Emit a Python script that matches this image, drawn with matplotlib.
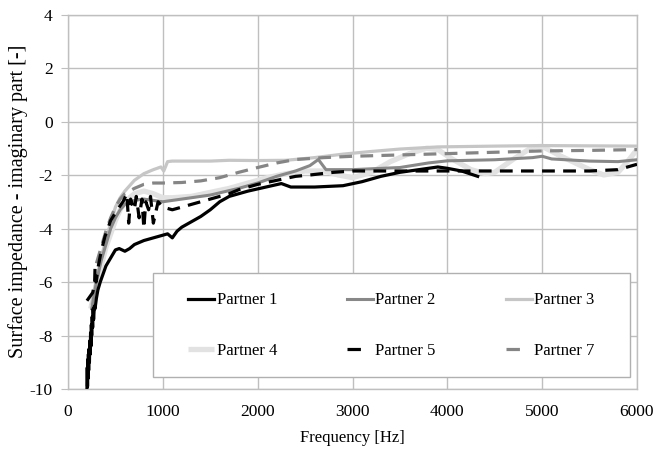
import matplotlib
matplotlib.use("Agg")
import matplotlib.pyplot as plt
from matplotlib.patches import Rectangle
from matplotlib.lines import Line2D

plt.rcParams['font.family'] = ['Liberation Serif', 'DejaVu Serif']
plt.rcParams['axes.unicode_minus'] = False

# Partner 1 (black solid)
p1_f = [200, 203, 206, 209, 212, 215, 218, 222, 226, 230, 234, 238, 242, 246, 250, 255,
        260, 265, 270, 278, 285, 300, 315, 340, 370, 400, 450, 500, 540, 600, 650, 700,
        800, 900, 1000, 1050, 1100, 1150, 1200, 1300, 1400, 1500, 1600, 1700, 1800,
        1900, 2000, 2150, 2250, 2350, 2600, 2900, 3100, 3300, 3500, 3700, 3900, 4000,
        4150, 4320]
p1_v = [-10.0, -9.2, -9.9, -8.9, -9.6, -8.7, -9.3, -8.5, -9.0, -8.2, -8.7, -7.9, -8.4,
        -7.6, -8.0, -7.3, -7.7, -7.0, -7.4, -6.9, -7.0, -6.6, -6.3, -6.0, -5.7, -5.4,
        -5.1, -4.8, -4.75, -4.85, -4.75, -4.6, -4.45, -4.35, -4.25, -4.2, -4.35, -4.1,
        -3.95, -3.75, -3.55, -3.3, -3.0, -2.8, -2.7, -2.6, -2.52, -2.4, -2.32, -2.45,
        -2.45, -2.4, -2.25, -2.05, -1.9, -1.8, -1.7, -1.75, -1.85, -2.05]

# Partner 2 (mid grey solid)
p2_f = [250, 300, 350, 400, 450, 500, 550, 600, 700, 800, 900, 1000, 1200, 1500, 1800,
        2000, 2200, 2400, 2550, 2640, 2720, 3000, 3500, 3800, 4000, 4500, 4900, 5000,
        5100, 5500, 5800, 6000]
p2_v = [-7.0, -6.0, -5.2, -4.6, -4.0, -3.6, -3.3, -3.1, -2.95, -2.9, -2.95, -3.0, -2.9,
        -2.75, -2.5, -2.3, -2.05, -1.85, -1.65, -1.42, -1.8, -1.8, -1.72, -1.55, -1.47,
        -1.43, -1.35, -1.3, -1.4, -1.48, -1.5, -1.43]

# Partner 3 (light grey solid)
p3_f = [250, 300, 350, 400, 450, 500, 550, 600, 700, 800, 900, 980, 1010, 1050, 1100,
        1300, 1500, 1700, 2000, 2300, 2600, 2900, 3200, 3500, 3900, 4500, 5000, 5500, 6000]
p3_v = [-6.8, -5.9, -5.1, -4.4, -3.8, -3.2, -2.85, -2.6, -2.2, -1.95, -1.8, -1.7, -1.85,
        -1.5, -1.48, -1.48, -1.48, -1.45, -1.46, -1.45, -1.35, -1.22, -1.12, -1.03,
        -0.95, -0.92, -0.9, -0.91, -0.92]

# Partner 4 (very light grey solid, wide)
p4_f = [240, 300, 350, 400, 450, 500, 550, 600, 700, 800, 900, 1000, 1100, 1300, 1500,
        1700, 1900, 2100, 2300, 2500, 2700, 2850, 3000, 3200, 3400, 3600, 3780, 3900,
        4050, 4250, 4400, 4500, 4700, 4900, 5000, 5200, 5500, 5650, 5800, 5900, 6000]
p4_v = [-7.0, -6.1, -5.4, -4.7, -4.2, -3.7, -3.3, -3.0, -2.7, -2.6, -2.7, -2.85, -2.85,
        -2.8, -2.65, -2.5, -2.3, -2.1, -1.95, -1.85, -1.85, -2.0, -2.1, -1.9, -1.5,
        -1.2, -1.0, -1.05, -1.4, -1.8, -1.95, -1.9, -1.4, -0.95, -0.93, -1.3, -1.8,
        -2.0, -1.9, -1.5, -1.05]

# Partner 5 (black dashed)
p5_f = [200, 230, 260, 280, 285, 295, 320, 350, 390, 450, 520, 580, 620, 640, 660, 700,
        720, 750, 780, 800, 820, 850, 870, 900, 950, 1000, 1100, 1200, 1300, 1400, 1500,
        1600, 1700, 1800, 1900, 2000, 2200, 2400, 2550, 2800, 3000, 3500, 4000, 4500,
        5000, 5500, 5800, 5900, 6000]
p5_v = [-6.7, -6.55, -6.4, -6.1, -5.5, -6.0, -5.4, -4.85, -4.3, -3.7, -3.3, -3.0, -2.7,
        -3.8, -2.9, -3.3, -2.8, -3.6, -2.9, -4.0, -3.0, -3.3, -2.8, -3.8, -3.0, -3.2,
        -3.3, -3.2, -3.1, -3.0, -2.9, -2.8, -2.7, -2.55, -2.45, -2.35, -2.2, -2.05,
        -2.0, -1.9, -1.85, -1.85, -1.85, -1.85, -1.85, -1.85, -1.8, -1.7, -1.6]

# Partner 7 (grey dashed)
p7_f = [300, 350, 400, 450, 500, 550, 600, 700, 800, 900, 1000, 1200, 1400, 1600, 1800,
        2000, 2200, 2400, 2700, 3000, 3500, 4000, 4500, 5000, 5500, 6000]
p7_v = [-5.3, -4.7, -4.1, -3.6, -3.2, -2.9, -2.7, -2.5, -2.35, -2.3, -2.3, -2.28, -2.22,
        -2.1, -1.9, -1.72, -1.55, -1.42, -1.35, -1.3, -1.25, -1.2, -1.15, -1.1, -1.08,
        -1.05]

fig = plt.figure(figsize=(6.69, 4.49), dpi=100)
ax = fig.add_axes([68 / 669, 1 - 389 / 449, (637 - 68) / 669, (389 - 14.5) / 449])

grid_c = '#bfbfbf'
ax.set_xlim(0, 6000)
ax.set_ylim(-10, 4)
ax.set_xticks(range(0, 6001, 1000))
ax.set_yticks(range(-10, 5, 2))
ax.grid(True, color=grid_c, linewidth=1.0)
ax.set_axisbelow(True)
for s in ax.spines.values():
    s.set_color(grid_c)
    s.set_linewidth(1.0)
ax.tick_params(axis='x', length=0, pad=11, labelsize=12.5)
ax.tick_params(axis='y', length=5, color=grid_c, pad=6, labelsize=12.5)

dash = (0, (4, 2.6))
ax.plot(p4_f, p4_v, color='#e2e2e2', lw=3.8, solid_capstyle='butt', zorder=2)
ax.plot(p3_f, p3_v, color='#c6c6c6', lw=2.3, zorder=3)
ax.plot(p2_f, p2_v, color='#888888', lw=2.2, zorder=3)
ax.plot(p7_f, p7_v, color='#858585', lw=2.3, linestyle=dash, zorder=4)
ax.plot(p5_f, p5_v, color='black', lw=2.3, linestyle=dash, zorder=5)
ax.plot(p1_f, p1_v, color='black', lw=2.3, zorder=6)

ax.set_xlabel('Frequency [Hz]', fontsize=12, labelpad=7)
ax.set_ylabel('Surface impedance - imaginary part [-]', fontsize=14.5, labelpad=1.5)

# legend box with a plain grey frame
x0, x1 = (153 - 68) / 569, (630 - 68) / 569
y0, y1 = (389 - 377) / 374.5, (389 - 273) / 374.5
ax.add_patch(Rectangle((x0, y0), x1 - x0, y1 - y0, transform=ax.transAxes,
                       facecolor='white', edgecolor='#b0b0b0', lw=1.0, zorder=7))

one_dash = (0, (4.2, 20))
leg_items = [
    ('Partner 1', Line2D([], [], color='black', lw=2.3)),
    ('Partner 4', Line2D([], [], color='#e2e2e2', lw=3.8, solid_capstyle='butt')),
    ('Partner 2', Line2D([], [], color='#888888', lw=2.2)),
    ('Partner 5', Line2D([], [], color='black', lw=2.3, linestyle=one_dash)),
    ('Partner 3', Line2D([], [], color='#c6c6c6', lw=2.3)),
    ('Partner 7', Line2D([], [], color='#858585', lw=2.3, linestyle=one_dash)),
]
leg = ax.legend([h for _, h in leg_items], [l for l, _ in leg_items], ncol=3,
                loc='lower left', mode='expand',
                bbox_to_anchor=(x0 + 17 / 569, y0, x1 - x0 - 34 / 569, y1 - y0),
                frameon=False, fontsize=12, handlelength=1.55, handletextpad=0.15,
                labelspacing=2.05, borderpad=1.1, borderaxespad=0)
leg.set_zorder(8)

fig.savefig('out.png', dpi=100)
